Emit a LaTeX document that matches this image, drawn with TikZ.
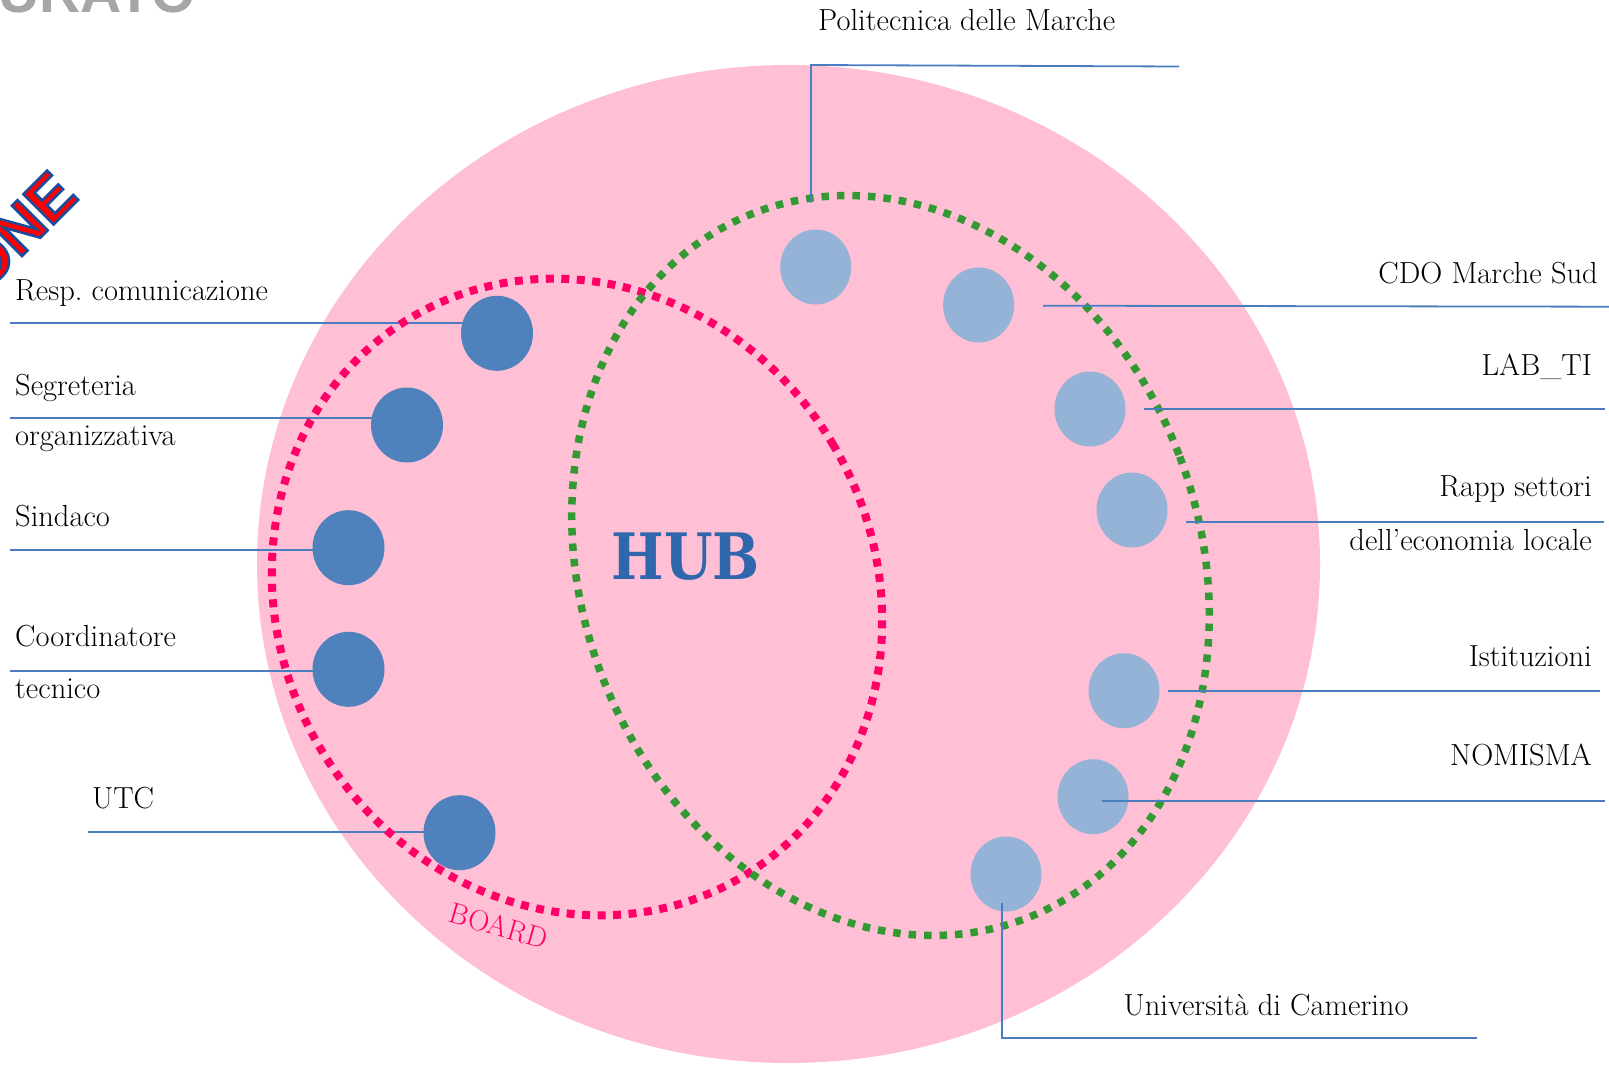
\documentclass[tikz,border=0pt]{standalone}
\usepackage{fontspec}
\usetikzlibrary{shapes.geometric}
\newfontfamily\sansbold{Liberation Sans}
\newfontfamily\hubfont{DejaVu Serif}
\definecolor{pinkfill}{RGB}{255,192,214}
\definecolor{dotred}{RGB}{255,0,102}
\definecolor{dotgreen}{RGB}{51,153,51}
\definecolor{darkblue}{RGB}{79,129,189}
\definecolor{lightblue}{RGB}{149,179,215}
\definecolor{connblue}{RGB}{74,126,193}
\definecolor{hubblue}{RGB}{46,103,172}
\definecolor{graytxt}{RGB}{166,166,166}
\definecolor{wared}{RGB}{255,0,0}
\pgfdeclarelayer{bg}
\pgfdeclarelayer{mid}
\pgfsetlayers{bg,mid,main}
\tikzset{
  lbl/.style={font=\fontsize{30.5}{36}\selectfont, inner sep=0pt},
  conn/.style={draw=connblue, line width=1.8pt},
  darkdot/.style={ellipse, fill=darkblue, minimum width=72pt, minimum height=75pt, inner sep=0pt},
  lightdot/.style={ellipse, fill=lightblue, minimum width=71pt, minimum height=75pt, inner sep=0pt},
  reddots/.style={draw=dotred, line width=8pt, dash pattern=on 8pt off 7.5pt},
  greendots/.style={draw=dotgreen, line width=7.5pt, dash pattern=on 7.5pt off 8pt},
}
\begin{document}
\begin{tikzpicture}[x=1pt,y=-1pt]
\useasboundingbox (0,0) rectangle (1609,1065);
\begin{pgfonlayer}{bg}
  \fill[white] (0,0) rectangle (1609,1065);
  \fill[pinkfill] (788.5,564) ellipse [x radius=531.5pt, y radius=499pt];
\end{pgfonlayer}

% dotted groups
\begin{scope}[shift={(577,597)}, rotate=30.5]
  \draw[reddots] (0,0) ellipse [x radius=298pt, y radius=325pt];
\end{scope}
\begin{scope}[shift={(890.5,565.5)}, rotate=21]
  \draw[greendots] (0,0) ellipse [x radius=309pt, y radius=378pt];
\end{scope}

% board members
\node[darkdot] (c1) at (497,333.3) {};
\node[darkdot] (c2) at (407,425) {};
\node[darkdot] (c3) at (348.5,547.7) {};
\node[darkdot] (c4) at (348.5,669.3) {};
\node[darkdot] (c5) at (459.5,832.7) {};

% hub members
\node[lightdot] (p1) at (815.7,267) {};
\node[lightdot] (p2) at (978.6,305) {};
\node[lightdot] (p3) at (1090,409) {};
\node[lightdot] (p4) at (1132,510) {};
\node[lightdot] (p5) at (1124,690.7) {};
\node[lightdot] (p6) at (1093,796.7) {};
\node[lightdot] (p7) at (1006,874) {};

% left connectors (under the circles)
\coordinate (l1) at (10,322.7);
\coordinate (l2) at (10,418.3);
\coordinate (l3) at (10,550);
\coordinate (l4) at (10,670.7);
\coordinate (l5) at (87.5,832.3);
\begin{pgfonlayer}{mid}
  \draw[conn] (l1) -- (l1 -| c1);
  \draw[conn] (l2) -- (l2 -| c2);
  \draw[conn] (l3) -- (l3 -| c3);
  \draw[conn] (l4) -- (l4 -| c4);
  \draw[conn] (l5) -- (l5 -| c5);
\end{pgfonlayer}

% right connectors
\coordinate (r1a) at (811,202.7);
\coordinate (r1b) at (811,65);
\coordinate (r1c) at (1179,66.5);
\coordinate (r2a) at (1043,305.7);
\coordinate (r2b) at (1609,306.7);
\coordinate (r3a) at (1144,409);
\coordinate (r3b) at (1605,409);
\coordinate (r4a) at (1186,521.7);
\coordinate (r4b) at (1604,521.7);
\coordinate (r5a) at (1168,690.7);
\coordinate (r5b) at (1600,690.7);
\coordinate (r6a) at (1102,800.7);
\coordinate (r6b) at (1605,800.7);
\coordinate (r7a) at (1002,902.7);
\coordinate (r7b) at (1002,1037.7);
\coordinate (r7c) at (1477,1037.7);
\draw[conn] (r1a) -- (r1b) -- (r1c);
\draw[conn] (r2a) -- (r2b);
\draw[conn] (r3a) -- (r3b);
\draw[conn] (r4a) -- (r4b);
\draw[conn] (r5a) -- (r5b);
\draw[conn] (r6a) -- (r6b);
\draw[conn] (r7a) -- (r7b) -- (r7c);

% left labels
\node[lbl, anchor=base west] (t1) at (15,300) {Resp.\ comunicazione};
\node[lbl, anchor=base west] (t2a) at (15,395) {Segreteria};
\node[lbl, anchor=base west] (t2b) at (15,445) {organizzativa};
\node[lbl, anchor=base west] (t3) at (15,526) {Sindaco};
\node[lbl, anchor=base west] (t4a) at (15,646.7) {Coordinatore};
\node[lbl, anchor=base west] (t4b) at (15,698) {tecnico};
\node[lbl, anchor=base west] (t5) at (92,808) {UTC};

% right labels
\node[lbl, anchor=base west] (s1) at (818,30.7) {Politecnica delle Marche};
\node[lbl, anchor=base east] (s2) at (1598,283) {CDO Marche Sud};
\node[lbl, anchor=base east] (s3) at (1592,375) {LAB\_TI};
\node[lbl, anchor=base east] (s4a) at (1592,496.7) {Rapp settori};
\node[lbl, anchor=base east] (s4b) at (1592,550) {dell’economia locale};
\node[lbl, anchor=base east] (s5) at (1592,666.7) {Istituzioni};
\node[lbl, anchor=base east] (s6) at (1592,765) {NOMISMA};
\node[lbl, anchor=base west] (s7) at (1123.5,1015) {Università di Camerino};

% central labels
\node[anchor=base, inner sep=0pt, text=hubblue, font=\hubfont\bfseries\fontsize{64}{64}\selectfont] (hub) at (685.5,579.3) {\scalebox{0.87}[1]{HUB}};
\node[rotate=-16, inner sep=0pt, text=dotred, font=\fontsize{29.3}{29.3}\selectfont] (board) at (499,926) {BOARD};

% fragments of the slide title at the top left
\begin{scope}
  \clip (0,0) rectangle (1609,1065);
  \node[anchor=base west, inner sep=0pt, text=graytxt, font=\sansbold\bfseries\fontsize{57}{57}\selectfont] (hdr) at (-2,12.5) {URATO};
  \node[rotate=45, anchor=base east, inner sep=0pt, font=\sansbold\bfseries\fontsize{62}{62}\selectfont] (wa) at (80,198) {\color{wared}\special{pdf:literal direct 2 Tr 2.5 w 0.10 0.30 0.62 RG}ONE\special{pdf:literal direct 0 Tr}};
\end{scope}
\end{tikzpicture}
\end{document}
